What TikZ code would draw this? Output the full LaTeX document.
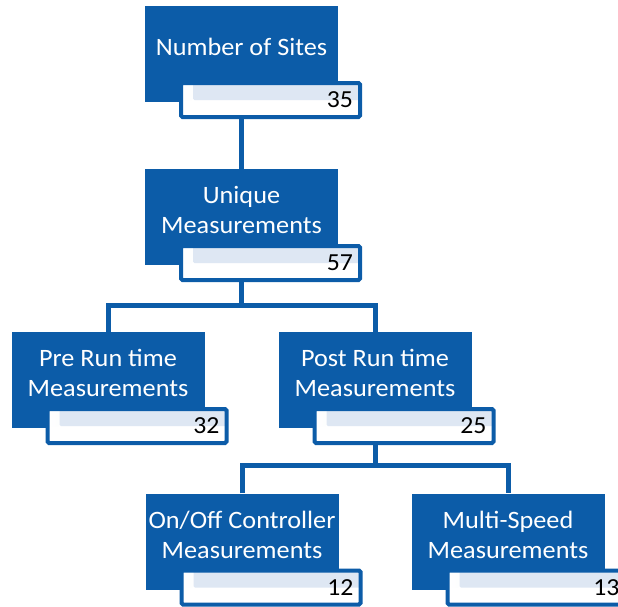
\documentclass[tikz,border=0pt]{standalone}
\usepackage{fontspec}
\setmainfont{Carlito}
\newfontfamily\boxfont[FakeStretch=1.05]{Carlito}
\usetikzlibrary{calc,backgrounds}
\definecolor{boxblue}{RGB}{12,92,168}
\definecolor{numtop}{RGB}{222,231,243}

\tikzset{
  bluebox/.style={fill=boxblue, minimum width=193pt, minimum height=96pt, inner sep=0pt},
  boxtext/.style={text=white, align=center, inner sep=0pt,
    font=\boxfont\fontsize{25}{30}\selectfont},
  numbox/.style={draw=boxblue, line width=4pt, fill=white, rounded corners=1.5pt,
    minimum width=179pt, minimum height=34pt, text width=165pt, align=right,
    inner xsep=7pt, inner ysep=0pt, font=\boxfont\fontsize{24.5}{28}\selectfont,
    path picture={
      \shade[left color=white, right color=numtop]
        (path picture bounding box.north west) rectangle ([xshift=12pt]path picture bounding box.west);
      \fill[numtop] ([xshift=12pt]path picture bounding box.north west)
        rectangle (path picture bounding box.east);
    }},
  link/.style={draw=boxblue, line width=5pt}
}

\begin{document}
\begin{tikzpicture}[x=1pt, y=-1pt]
  \useasboundingbox (0,0) rectangle (618,606);

  % blue boxes
  \node[bluebox] (a) at (241.5,54) {};
  \node[bluebox] (b) at (241.5,217) {};
  \node[bluebox] (c) at (108,380) {};
  \node[bluebox] (d) at (375,380) {};
  \node[bluebox] (e) at (242,541.5) {};
  \node[bluebox] (f) at (508,541.5) {};

  % captions
  \node[boxtext] (ta) at ($(a.center)+(0,-7)$) {Number of Sites};
  \node[boxtext] (tb) at ($(b.center)+(0,-7)$) {Unique\\Measurements};
  \node[boxtext] (tc) at ($(c.center)+(0,-7)$) {Pre Run time\\Measurements};
  \node[boxtext] (td) at ($(d.center)+(0,-7)$) {Post Run time\\Measurements};
  \node[boxtext] (te) at ($(e.center)+(0,-7)$) {On/Off Controller\\Measurements};
  \node[boxtext] (tf) at ($(f.center)+(0,-7)$) {Multi-Speed\\Measurements};

  % count boxes
  \node[numbox] (na) at ($(a.center)+(29,46)$) {35};
  \node[numbox] (nb) at ($(b.center)+(29,46)$) {57};
  \node[numbox] (nc) at ($(c.center)+(29,46)$) {32};
  \node[numbox] (nd) at ($(d.center)+(29,46)$) {25};
  \node[numbox] (ne) at ($(e.center)+(29,46)$) {12};
  \node[numbox] (nf) at ($(f.center)+(29,46)$) {13};

  % junctions of the tree
  \coordinate (j1) at (241.5,305);
  \coordinate (j2) at (375,465);

  \begin{scope}[on background layer]
    \draw[link] (a |- na.south) -- (b.north);
    \draw[link] (b |- nb.south) -- (j1);
    \draw[link] (c.north) -- (c |- j1) -- (d |- j1) -- (d.north);
    \draw[link] (d |- nd.south) -- (j2);
    \draw[link] (e.north) -- (e |- j2) -- (f |- j2) -- (f.north);
  \end{scope}
\end{tikzpicture}
\end{document}
